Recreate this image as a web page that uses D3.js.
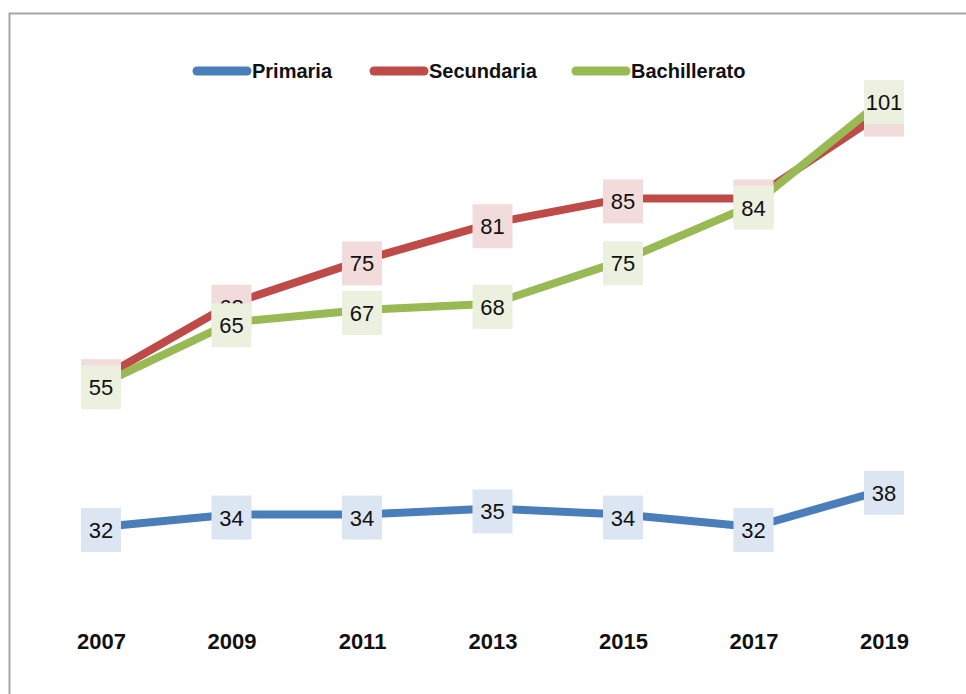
<!DOCTYPE html>
<html>
<head>
<meta charset="utf-8">
<script src="https://cdn.jsdelivr.net/npm/d3@7"></script>
<style>
  body { margin: 0; background: #fff; }
  svg { display: block; }
</style>
</head>
<body>
<script>
// data
var years = ["2007", "2009", "2011", "2013", "2015", "2017", "2019"];
var primaria = [32, 34, 34, 35, 34, 32, 38];
var secundaria = [56, 68, 75, 81, 85, 85, 99];
var bachillerato = [55, 65, 67, 68, 75, 84, 101];
var seriesNames = ["Primaria", "Secundaria", "Bachillerato"];
var lineColors = ["#4a7ebb", "#be4b48", "#98b954"];
var boxColors = ["#dce6f2", "#f2dcdb", "#ebf1de"];

var width = 966, height = 694;

var svg = d3.select("body").append("svg")
    .attr("width", width)
    .attr("height", height);

svg.append("rect")
    .attr("width", "100%")
    .attr("height", "100%")
    .attr("fill", "#ffffff");

// chart frame (right and bottom edges fall outside the window)
svg.append("rect")
    .attr("x", 9.5)
    .attr("y", 13.5)
    .attr("width", 1000)
    .attr("height", 1000)
    .attr("fill", "none")
    .attr("stroke", "#a6a6a6")
    .attr("stroke-width", 2);

// set the ranges
var x = d3.scalePoint()
    .domain(years)
    .range([101, 884]);
var y = d3.scaleLinear()
    .domain([20, 110])
    .range([601.4, 43.4]);

var allSeries = [primaria, secundaria, bachillerato];

var line = d3.line()
    .x(function(d, i) { return x(years[i]); })
    .y(function(d) { return y(d); });

// lines first, labels on top
svg.selectAll(".series")
    .data(allSeries)
  .enter().append("path")
    .attr("class", "series")
    .attr("d", line)
    .attr("fill", "none")
    .attr("stroke", function(d, i) { return lineColors[i]; })
    .attr("stroke-width", 8)
    .attr("stroke-linejoin", "round");

allSeries.forEach(function(vals, s) {
  var g = svg.append("g");
  vals.forEach(function(v, i) {
    var cx = x(years[i]), cy = y(v) + 3;
    g.append("rect")
        .attr("x", cx - 20)
        .attr("y", cy - 22)
        .attr("width", 40)
        .attr("height", 44)
        .attr("fill", boxColors[s]);
    g.append("text")
        .attr("x", cx)
        .attr("y", cy)
        .attr("dy", "0.36em")
        .attr("text-anchor", "middle")
        .attr("font-family", "'Liberation Sans', sans-serif")
        .attr("font-size", "22px")
        .attr("fill", "#111")
        .text(v);
  });
});

// x axis labels
svg.append("g")
    .attr("transform", "translate(0,641)")
    .call(d3.axisBottom(x).tickSize(0).tickPadding(0))
    .call(function(g) { g.select(".domain").remove(); })
    .selectAll("text")
    .attr("dy", "0.36em")
    .attr("font-family", "'Liberation Sans', sans-serif")
    .attr("font-weight", "bold")
    .attr("font-size", "22px")
    .attr("fill", "#111");

// legend
var legendX = [193, 370, 572];
var legend = svg.selectAll(".legend")
    .data(seriesNames)
  .enter().append("g")
    .attr("class", "legend")
    .attr("transform", function(d, i) { return "translate(" + legendX[i] + ",71)"; });

legend.append("line")
    .attr("x1", 4)
    .attr("x2", 54)
    .attr("stroke", function(d, i) { return lineColors[i]; })
    .attr("stroke-width", 9)
    .attr("stroke-linecap", "round");

legend.append("text")
    .attr("x", 59)
    .attr("dy", "0.36em")
    .attr("font-family", "'Liberation Sans', sans-serif")
    .attr("font-weight", "bold")
    .attr("font-size", "20px")
    .attr("fill", "#111")
    .text(function(d) { return d; });
</script>
</body>
</html>
